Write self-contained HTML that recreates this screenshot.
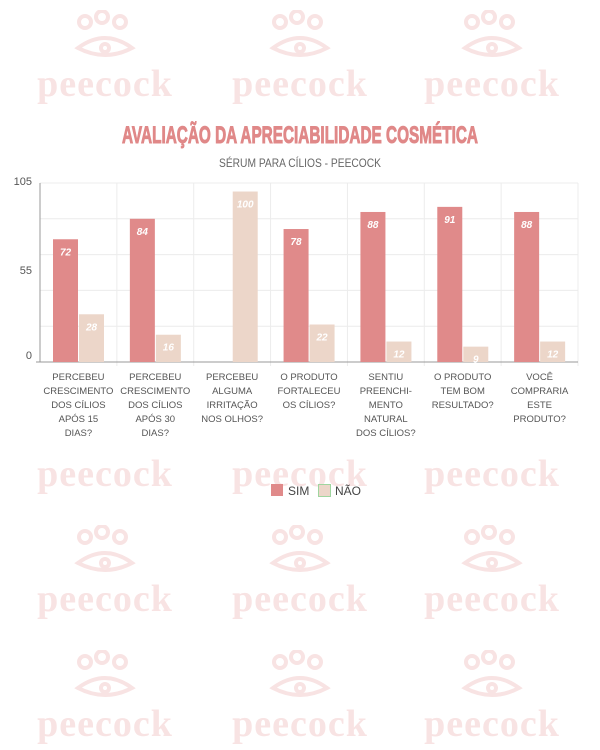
<!DOCTYPE html>
<html><head><meta charset="utf-8"><style>
body{margin:0;width:600px;height:750px;background:#fff;position:relative;overflow:hidden;font-family:"Liberation Sans",sans-serif}
.wm{position:absolute;width:160px;text-align:center;color:#f8e3e3;font-family:"Liberation Serif",serif;font-weight:bold;font-size:38px;letter-spacing:1px}
.cover{position:absolute;left:0;top:108px;width:600px;height:345px;background:#fff}
</style></head><body>
<div id="wms"></div>
<div class="cover"></div>
<svg id="c" width="600" height="750" style="position:absolute;left:0;top:0"></svg>
<script>
const categories=[["PERCEBEU","CRESCIMENTO","DOS CÍLIOS","APÓS 15","DIAS?"],["PERCEBEU","CRESCIMENTO","DOS CÍLIOS","APÓS 30","DIAS?"],["PERCEBEU","ALGUMA","IRRITAÇÃO","NOS OLHOS?"],["O PRODUTO","FORTALECEU","OS CÍLIOS?"],["SENTIU","PREENCHI-","MENTO","NATURAL","DOS CÍLIOS?"],["O PRODUTO","TEM BOM","RESULTADO?"],["VOCÊ","COMPRARIA","ESTE","PRODUTO?"]];
const simValues=[72,84,0,78,88,91,88];
const naoValues=[28,16,100,22,12,9,12];
const yTicks=[0,55,105];
const gridVals=[21,42,63,84,105];

const NS="http://www.w3.org/2000/svg";
const svg=document.getElementById('c');
const X0=40,X1=578,Y0=362,Y1=183,YMAX=105;
const cw=(X1-X0)/categories.length;
const y=v=>Y0-(v/YMAX)*(Y0-Y1);
const x=i=>X0+i*cw;
function el(t,a,txt){const e=document.createElementNS(NS,t);for(const k in a)e.setAttribute(k,a[k]);if(txt!==undefined)e.textContent=txt;svg.appendChild(e);return e;}

// watermarks
const wms=document.getElementById('wms');
[105,300,492].forEach(cx=>[[0],[1],[2],[3]].forEach(r=>{
  const ty=[60,450,575,700][r[0]];
  const d=document.createElement('div');d.className='wm';
  
  
  d.style.left=(cx-80)+'px';d.style.top=(ty-50)+'px';
  d.innerHTML='<svg width="70" height="50" viewBox="0 0 70 50"><g fill="none" stroke="#f8e3e3" stroke-width="4"><circle cx="15" cy="12" r="6"/><circle cx="32" cy="7" r="6"/><circle cx="50" cy="12" r="6"/><path d="M8 38 Q35 18 62 38 Q35 52 8 38Z"/><circle cx="35" cy="38" r="4"/></g></svg><div style="margin-top:-8px">peecock</div>';
  wms.appendChild(d);
}));

// title
const t=el('text',{x:300,y:143,'text-anchor':'middle','font-size':24,'font-weight':'bold',fill:'#e08888',stroke:'#e08888','stroke-width':1,'font-family':'"Liberation Sans",sans-serif',textLength:356,lengthAdjust:'spacingAndGlyphs'},'AVALIAÇÃO DA APRECIABILIDADE COSMÉTICA');

const st=el('text',{x:300,y:167,'text-anchor':'middle','font-size':12,fill:'#666',textLength:162,lengthAdjust:'spacingAndGlyphs'},'SÉRUM PARA CÍLIOS - PEECOCK');


// grid
gridVals.forEach(v=>{const g=el('line',{x1:X0,x2:X1,y1:y(v),y2:y(v),stroke:'#ececec'});});
for(let i=1;i<=categories.length;i++){const g=el('line',{x1:x(i),x2:x(i),y1:Y1,y2:Y0+4,stroke:'#ececec'});}
const ya=el('line',{x1:X0,x2:X0,y1:Y1,y2:Y0,stroke:'#999'});
const xa=el('line',{x1:X0-4,x2:X1,y1:Y0,y2:Y0,stroke:'#999'});
yTicks.forEach(v=>{const off=v===55?6:(v===0?-3:2);const tl=el('text',{x:X0-8,y:y(v)+off,'text-anchor':'end','font-size':11,fill:'#555'},String(v));});

// bars
categories.forEach((lines,i)=>{
  const bx=x(i)+13;
  [[simValues[i],'#e08a8a',bx,'bar-sim'],[naoValues[i],'#ecd6c9',bx+26,'bar-nao']].forEach(([v,c,xx,n])=>{
    if(v<=0)return;
    const r=el('rect',{x:xx,y:y(v),width:25,height:Y0-y(v),fill:c});
    
    const vl=el('text',{x:xx+12.5,y:y(v)+16,'text-anchor':'middle','font-size':10,'font-style':'italic','font-weight':'bold',fill:'#fff'},String(v));
    
  });
  lines.forEach((ln,j)=>{const tl=el('text',{x:x(i)+cw/2,y:380+j*14,'text-anchor':'middle','font-size':9.5,fill:'#555'},ln);});
});

// legend
const l1=el('rect',{x:271,y:484,width:12,height:12,fill:'#e08a8a'});
const l1t=el('text',{x:288,y:495,'font-size':12,fill:'#444'},'SIM');
const l2=el('rect',{x:318.5,y:484.5,width:12,height:12,fill:'#ecd6c9',stroke:'#9fd59f'});
const l2t=el('text',{x:335,y:495,'font-size':12,fill:'#444'},'NÃO');
</script>
</body></html>
